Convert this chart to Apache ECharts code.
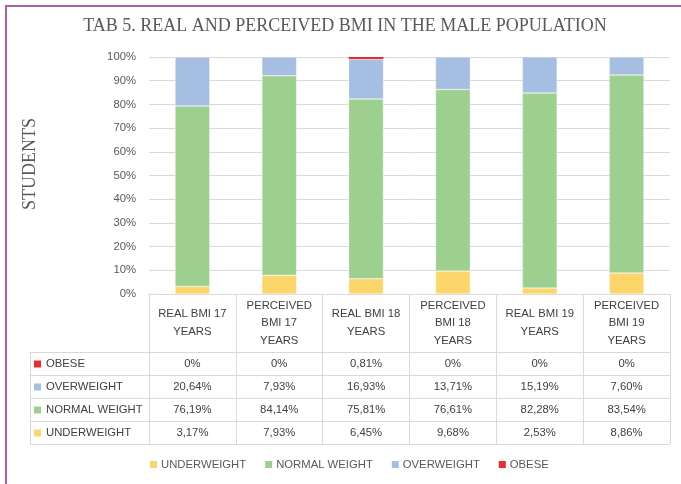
<!DOCTYPE html>
<html>
<head>
<meta charset="utf-8">
<script src="https://cdn.jsdelivr.net/npm/echarts@6/dist/echarts.min.js"></script>
<style>
  html, body { margin: 0; padding: 0; background: #fff; }
  #main { width: 681px; height: 484px; }
</style>
</head>
<body>
<div id="main"></div>
<script>
// data
var categories = ['REAL BMI 17\nYEARS', 'PERCEIVED\nBMI 17\nYEARS', 'REAL BMI 18\nYEARS',
  'PERCEIVED\nBMI 18\nYEARS', 'REAL BMI 19\nYEARS', 'PERCEIVED\nBMI 19\nYEARS'];
var underweight = [3.17, 7.93, 6.45, 9.68, 2.53, 8.86];
var normalWeight = [76.19, 84.14, 75.81, 76.61, 82.28, 83.54];
var overweight = [20.64, 7.93, 16.93, 13.71, 15.19, 7.60];
var obese = [0, 0, 0.81, 0, 0, 0];

var sansFont = 'Liberation Sans, Arial, sans-serif';
var serifFont = 'Liberation Serif, Times New Roman, serif';
var fs = 11.3;

var seriesDefs = [
  { name: 'UNDERWEIGHT', data: underweight, color: '#FCD56B' },
  { name: 'NORMAL WEIGHT', data: normalWeight, color: '#9DCF8F' },
  { name: 'OVERWEIGHT', data: overweight, color: '#A6BEE1' },
  { name: 'OBESE', data: obese, color: '#EC2B2B' }
];

function fmt(v) {
  return v === 0 ? '0%' : v.toFixed(2).replace('.', ',') + '%';
}

var chart = echarts.init(document.getElementById('main'));

var option = {
  backgroundColor: '#ffffff',
  animation: false,
  grid: { left: 149, right: 11, top: 57, bottom: 190 },
  legend: {
    left: 150,
    top: 459,
    padding: 0,
    icon: 'rect',
    itemWidth: 7,
    itemHeight: 7,
    itemGap: 19,
    itemStyle: { borderWidth: 0 },
    data: seriesDefs.map(function (s) { return s.name; }),
    textStyle: { fontFamily: sansFont, fontSize: fs, color: '#595959', padding: [0, 0, 0, -1] }
  },
  xAxis: {
    type: 'category',
    data: categories,
    axisLine: { lineStyle: { color: '#d9d9d9' } },
    axisTick: { show: true, length: 150, interval: 0, lineStyle: { color: '#d9d9d9' } },
    axisLabel: {
      interval: 0,
      margin: 29,
      verticalAlign: 'middle',
      lineHeight: 17.5,
      fontFamily: sansFont,
      fontSize: fs,
      color: '#404040'
    }
  },
  yAxis: {
    type: 'value',
    min: 0,
    max: 100,
    interval: 10,
    axisLine: { show: false },
    axisTick: { show: false },
    axisLabel: {
      formatter: '{value}%',
      margin: 13,
      fontFamily: sansFont,
      fontSize: fs,
      color: '#595959'
    },
    splitLine: { lineStyle: { color: '#d9d9d9' } }
  },
  series: seriesDefs.map(function (s) {
    return {
      name: s.name,
      type: 'bar',
      stack: 'bmi',
      barWidth: '40%',
      data: s.data,
      itemStyle: {
        color: s.color,
        borderColor: 'rgba(255,255,255,0.7)',
        borderWidth: s.name === 'OBESE' ? 0 : 0.5
      }
    };
  })
};

chart.setOption(option);

// data table under the plot, columns follow the category axis
var tableRows = [seriesDefs[3], seriesDefs[2], seriesDefs[1], seriesDefs[0]];
var headerBottom = 352;
var rowH = 23;
var tableLeft = 30;
var tableRight = chart.convertToPixel({ xAxisIndex: 0 }, categories.length - 1) + 43.4;

var graphics = [];
// purple frame
graphics.push({
  type: 'rect',
  shape: { x: 6, y: 6, width: 700, height: 520 },
  style: { fill: 'none', stroke: '#A8629F', lineWidth: 2 }
});
// title
graphics.push({
  type: 'text',
  x: 345,
  y: 26,
  style: {
    text: 'TAB 5. REAL AND PERCEIVED BMI IN THE MALE POPULATION',
    font: '18px ' + serifFont,
    fill: '#595959',
    textAlign: 'center',
    textVerticalAlign: 'middle'
  }
});
// y axis title
graphics.push({
  type: 'text',
  x: 30,
  y: 164,
  rotation: Math.PI / 2,
  style: {
    text: 'STUDENTS',
    font: '18px ' + serifFont,
    fill: '#595959',
    textAlign: 'center',
    textVerticalAlign: 'middle'
  }
});

for (var k = 0; k <= tableRows.length; k++) {
  var y = headerBottom + k * rowH + 0.5;
  graphics.push({
    type: 'line',
    shape: { x1: tableLeft, y1: y, x2: tableRight, y2: y },
    style: { stroke: '#d9d9d9', lineWidth: 1 }
  });
}
graphics.push({
  type: 'line',
  shape: { x1: tableLeft + 0.5, y1: headerBottom, x2: tableLeft + 0.5, y2: headerBottom + tableRows.length * rowH },
  style: { stroke: '#d9d9d9', lineWidth: 1 }
});

tableRows.forEach(function (row, r) {
  var cy = headerBottom + r * rowH + rowH / 2 + 0.5;
  graphics.push({
    type: 'rect',
    shape: { x: 34, y: cy - 3.5, width: 7, height: 7 },
    style: { fill: row.color }
  });
  graphics.push({
    type: 'text',
    x: 46,
    y: cy,
    style: {
      text: row.name,
      font: fs + 'px ' + sansFont,
      fill: '#404040',
      textAlign: 'left',
      textVerticalAlign: 'middle'
    }
  });
  row.data.forEach(function (v, i) {
    graphics.push({
      type: 'text',
      x: chart.convertToPixel({ xAxisIndex: 0 }, i),
      y: cy,
      style: {
        text: fmt(v),
        font: fs + 'px ' + sansFont,
        fill: '#404040',
        textAlign: 'center',
        textVerticalAlign: 'middle'
      }
    });
  });
});

chart.setOption({ graphic: graphics });
</script>
</body>
</html>
